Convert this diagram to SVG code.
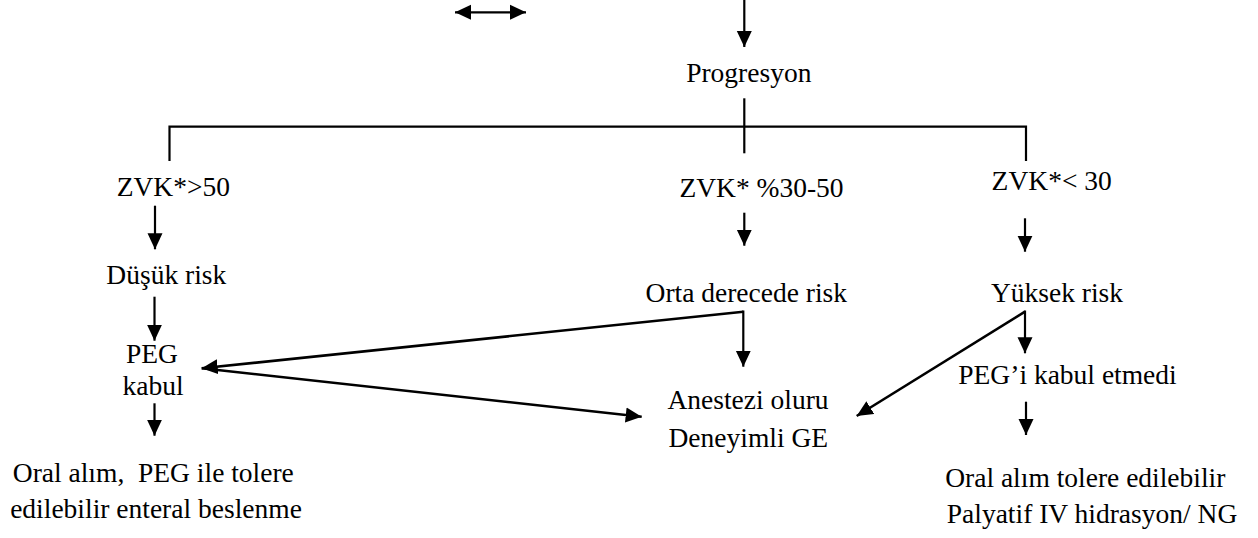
<svg xmlns="http://www.w3.org/2000/svg" width="1258" height="538" viewBox="0 0 1258 538">
<style>
text{white-space:pre}
.ln{stroke:#000;stroke-width:2.2;fill:none}
.dg{stroke:#000;stroke-width:2.6;fill:none}
.ar{marker-end:url(#ah)}
</style>
<defs>
<marker id="ah" markerUnits="userSpaceOnUse" markerWidth="16" markerHeight="16" viewBox="0 0 16 16" refX="16" refY="8" orient="auto">
<path d="M0,0.5 L16,8 L0,15.5 z" fill="#000"/>
</marker>
<marker id="ahs" markerUnits="userSpaceOnUse" markerWidth="16" markerHeight="16" viewBox="0 0 16 16" refX="0" refY="8" orient="auto">
<path d="M16,0.5 L0,8 L16,15.5 z" fill="#000"/>
</marker>
</defs>
<rect width="1258" height="538" fill="#fff"/>
<g id="connectors">
<line class="ln" x1="455" y1="12.3" x2="526" y2="12.3" marker-start="url(#ahs)" marker-end="url(#ah)"/>
<line class="ln ar" x1="744.3" y1="0" x2="744.3" y2="47"/>
<line class="ln" x1="744.3" y1="98.3" x2="744.3" y2="153.3"/>
<polyline class="ln" points="169.5,161 169.5,126.7 1026,126.7 1026,161"/>
<line class="ln ar" x1="155" y1="205.7" x2="155" y2="249.3"/>
<line class="ln ar" x1="154.5" y1="296.7" x2="154.5" y2="340.7"/>
<line class="ln ar" x1="154.5" y1="403.3" x2="154.5" y2="435.7"/>
<line class="ln ar" x1="744.3" y1="212.7" x2="744.3" y2="245.7"/>
<line class="ln ar" x1="1025" y1="218.3" x2="1025" y2="251.7"/>
<line class="dg ar" x1="743.3" y1="311.7" x2="201.7" y2="368.3"/>
<line class="ln ar" x1="743.3" y1="310.5" x2="743.3" y2="366.7"/>
<line class="dg ar" x1="201.7" y1="368.3" x2="641.7" y2="416.7"/>
<line class="dg ar" x1="1025" y1="311.7" x2="856.7" y2="416"/>
<line class="ln ar" x1="1025" y1="310.5" x2="1025" y2="353.3"/>
<line class="ln ar" x1="1026" y1="401.7" x2="1026" y2="435"/>
</g>
<g font-family="Liberation Serif, Times New Roman, Times, DejaVu Serif, serif" font-size="27.5" fill="#000" text-anchor="middle">
<g id="progresyon"><text x="748.8" y="81.7">Progresyon</text></g>
<g id="zvk50"><text x="173.3" y="196">ZVK*&gt;50</text></g>
<g id="zvk3050"><text x="761.5" y="196.7">ZVK* %30-50</text></g>
<g id="zvk30"><text x="1051.7" y="190">ZVK*&lt; 30</text></g>
<g id="dusuk"><text x="166.3" y="284">Düşük risk</text></g>
<g id="orta"><text x="746.3" y="301.7">Orta derecede risk</text></g>
<g id="yuksek"><text x="1057" y="301.7">Yüksek risk</text></g>
<g id="peg"><text x="152" y="362.7">PEG</text><text x="153" y="395">kabul</text></g>
<g id="pegred"><text x="1067.5" y="384">PEG’i kabul etmedi</text></g>
<g id="anestezi"><text x="748" y="409">Anestezi oluru</text><text x="748.3" y="446.7">Deneyimli GE</text></g>
<g id="oral1"><text x="153.3" y="481.7">Oral alım,  PEG ile tolere</text><text x="156" y="518.3">edilebilir enteral beslenme</text></g>
<g id="oral2"><text x="1085.3" y="486.7">Oral alım tolere edilebilir</text><text x="1092" y="523.3">Palyatif IV hidrasyon/ NG</text></g>
</g>
</svg>
